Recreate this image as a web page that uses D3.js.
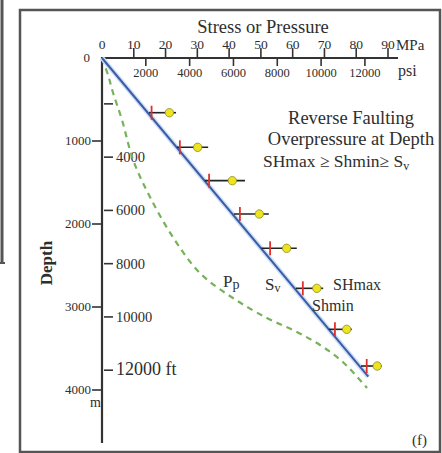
<!DOCTYPE html>
<html><head><meta charset="utf-8">
<script src="https://cdn.jsdelivr.net/npm/d3@7"></script>
<style>
html,body{margin:0;padding:0;background:#fff;}
text{font-family:"Liberation Serif","DejaVu Serif",serif;fill:#2e2e2e;}
</style></head>
<body>
<svg id="c" width="442" height="453"></svg>
<script>
// ---- data ----
const mpaTicks = [0,10,20,30,40,50,60,70,80,90];
const psiTicks = [2000,4000,6000,8000,10000,12000];
const mTicks = [0,1000,2000,3000,4000];
const mLabels = ["0","1000","2000","3000","4000"];
const ftTicks = [2000,4000,6000,8000,10000,12000];
const ftLabels = ["","4000","6000","8000","10000","12000 ft"];
// Sv line (depth m, stress MPa)
const svDepth = [0, 3840];
const svStress = [0, 83.8];
// Pore pressure Pp (dashed)
const ppDepth  = [0, 205, 422, 747, 1229, 1675, 2157, 2590, 2892, 3133, 3289, 3458, 3663, 3976];
const ppStress = [0, 1.9, 3.5, 6.3, 9.8, 15.1, 22.3, 30.8, 41.2, 51.9, 60.7, 68.6, 75.8, 83.4];
// stress measurements
const markDepth = [659, 1076, 1478, 1880, 2293, 2775, 3269, 3711];
const shmin     = [15.6, 24.5, 33.7, 43.4, 52.9, 63.2, 73.3, 83.3];
const shmax     = [21.2, 30.1, 41.0, 49.5, 58.1, 67.6, 77.0, 86.6];
const barLo     = [14.8, 23.6, 32.4, 41.5, 50.2, 61.0, 71.4, 81.5];
const barHi     = [23.3, 33.4, 45.0, 52.5, 61.3, 69.6, 78.6, 88.0];

const svg = d3.select("#c");
const x = d3.scaleLinear().domain([0,90]).range([102,388]);
const xPsi = d3.scaleLinear().domain([0,12000]).range([x(0), x(12000*0.00689476)]);
const y = d3.scaleLinear().domain([0,4000]).range([58,390]);
const yFt = d3.scaleLinear().domain([0,12000]).range([50.6,370.2]);

// frame
svg.append("line").attr("x1",2).attr("y1",0).attr("x2",2).attr("y2",263).attr("stroke","#555").attr("stroke-width",3);
svg.append("line").attr("x1",0).attr("y1",263).attr("x2",5).attr("y2",263).attr("stroke","#555").attr("stroke-width",2);
svg.append("rect").attr("x",20).attr("y",10).attr("width",420).attr("height",442)
  .attr("fill","none").attr("stroke","#555").attr("stroke-width",2.5);

// top axis (MPa above, psi below)
const gTop = svg.append("g");
gTop.append("line").attr("x1",x(0)).attr("x2",398).attr("y1",y(0)).attr("y2",y(0)).attr("stroke","#333").attr("stroke-width",2.2);
gTop.selectAll(".mt").data(mpaTicks.filter(d=>d>0)).join("line")
  .attr("x1",d=>x(d)).attr("x2",d=>x(d)).attr("y1",y(0)).attr("y2",y(0)-10)
  .attr("stroke","#333").attr("stroke-width",1.6);
gTop.selectAll(".ml").data(mpaTicks).join("text")
  .attr("x",d=>x(d)).attr("y",49).attr("text-anchor","middle").attr("font-size",13.5).text(d=>d);
gTop.append("text").attr("x",396).attr("y",50).attr("font-size",15).text("MPa");
gTop.selectAll(".pt").data(psiTicks).join("line")
  .attr("x1",d=>xPsi(d)).attr("x2",d=>xPsi(d)).attr("y1",y(0)).attr("y2",y(0)+8)
  .attr("stroke","#333").attr("stroke-width",1.6);
gTop.selectAll(".pl").data(psiTicks).join("text")
  .attr("x",d=>xPsi(d)).attr("y",77).attr("text-anchor","middle").attr("font-size",12.5).text(d=>d);
gTop.append("text").attr("x",398).attr("y",76).attr("font-size",16).text("psi");
gTop.append("text").attr("x",263).attr("y",33).attr("text-anchor","middle").attr("font-size",18.5).text("Stress or Pressure");

// left axis (m left, ft right)
const gLeft = svg.append("g");
gLeft.append("line").attr("x1",x(0)).attr("x2",x(0)).attr("y1",y(0)-1).attr("y2",443).attr("stroke","#333").attr("stroke-width",2.2);
gLeft.selectAll(".mtk").data(mTicks.filter(d=>d>0)).join("line")
  .attr("x1",x(0)-10).attr("x2",x(0)).attr("y1",d=>y(d)).attr("y2",d=>y(d))
  .attr("stroke","#333").attr("stroke-width",1.6);
gLeft.selectAll(".mlb").data(mTicks).join("text")
  .attr("x",(d,i)=>i===0?90:91).attr("y",d=>y(d)+4).attr("text-anchor","end").attr("font-size",13)
  .attr("fill","#444").text((d,i)=>mLabels[i]);
gLeft.append("text").attr("x",101).attr("y",407).attr("text-anchor","end").attr("font-size",14).text("m");
gLeft.selectAll(".ftk").data(ftTicks).join("line")
  .attr("x1",x(0)+2).attr("x2",x(0)+11).attr("y1",d=>yFt(d)).attr("y2",d=>yFt(d))
  .attr("stroke","#333").attr("stroke-width",1.6);
gLeft.selectAll(".flb").data(ftTicks).join("text")
  .attr("x",x(0)+14).attr("y",d=>yFt(d)+5).attr("font-size",(d,i)=>i===ftTicks.length-1?18:14.5)
  .attr("fill","#444").text((d,i)=>ftLabels[i]);
svg.append("text").attr("transform","translate(52,263) rotate(-90)").attr("text-anchor","middle")
  .attr("font-size",17).attr("font-weight","bold").text("Depth");

// Pp dashed curve
const ppLine = d3.line().x(d=>x(d[1])).y(d=>y(d[0])).curve(d3.curveCatmullRom);
svg.append("path").attr("d",ppLine(ppDepth.map((d,i)=>[d,ppStress[i]])))
  .attr("fill","none").attr("stroke","#77b25a").attr("stroke-width",2.2).attr("stroke-dasharray","6,5");

// Sv line
const svPts = svDepth.map((d,i)=>[d,svStress[i]]);
const svLine = d3.line().x(d=>x(d[1])).y(d=>y(d[0]));
svg.append("path").attr("d",svLine(svPts)).attr("stroke","#cfe0f4").attr("stroke-width",5).attr("fill","none");
svg.append("path").attr("d",svLine(svPts)).attr("stroke","#3b5ca8").attr("stroke-width",2).attr("fill","none");

// measurements
const mk = svg.append("g");
markDepth.forEach((d,i)=>{
  mk.append("line").attr("x1",x(barLo[i])).attr("x2",x(barHi[i])).attr("y1",y(d)).attr("y2",y(d))
    .attr("stroke","#222").attr("stroke-width",1.6);
  mk.append("line").attr("x1",x(shmin[i])).attr("x2",x(shmin[i])).attr("y1",y(d)-7).attr("y2",y(d)+7)
    .attr("stroke","#e0302c").attr("stroke-width",1.8);
  mk.append("circle").attr("cx",x(shmax[i])).attr("cy",y(d)).attr("r",4.2)
    .attr("fill","#eee41e").attr("stroke","#8a8a30").attr("stroke-width",0.8);
});

// annotation text
const ann = svg.append("g");
ann.append("text").attr("x",351).attr("y",124).attr("text-anchor","middle").attr("font-size",18.5).text("Reverse Faulting");
ann.append("text").attr("x",351).attr("y",144.5).attr("text-anchor","middle").attr("font-size",18.5).text("Overpressure at Depth");
const rel = ann.append("text").attr("x",263).attr("y",167).attr("font-size",17.5);
rel.append("tspan").text("SHmax ≥ Shmin≥  S");
rel.append("tspan").attr("font-size",12).attr("dy",3).text("v");

const pp = svg.append("text").attr("x",223).attr("y",287).attr("font-size",17);
pp.append("tspan").text("P");
pp.append("tspan").attr("font-size",14).attr("dy",2).text("p");
const sv = svg.append("text").attr("x",265).attr("y",290).attr("font-size",17);
sv.append("tspan").text("S");
sv.append("tspan").attr("font-size",12).attr("dy",2).text("v");
svg.append("text").attr("x",333).attr("y",290).attr("font-size",16).text("SHmax");
svg.append("text").attr("x",312).attr("y",311).attr("font-size",16).text("Shmin");
svg.append("text").attr("x",412).attr("y",445).attr("font-size",15).text("(f)");
</script>
</body></html>
